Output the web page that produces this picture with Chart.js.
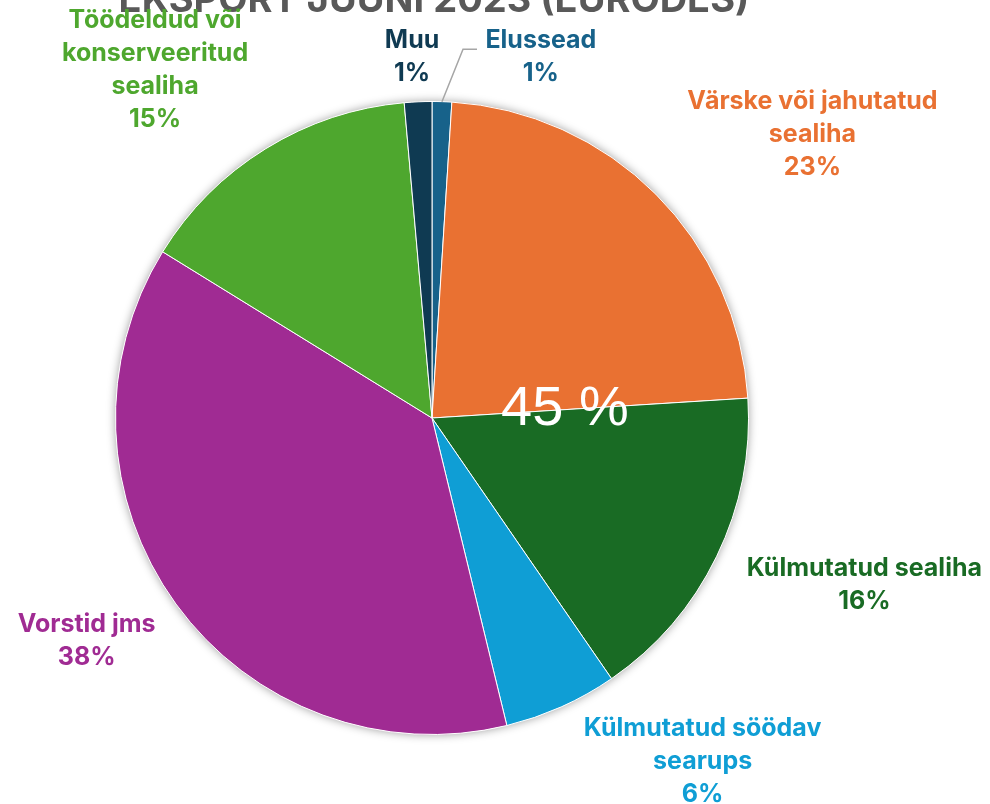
<!DOCTYPE html>
<html>
<head>
<meta charset="utf-8">
<script src="https://cdn.jsdelivr.net/npm/chart.js@4.4.0/dist/chart.umd.min.js"></script>
<style>
  html, body { margin: 0; padding: 0; background: #fff; }
  #wrap { width: 990px; height: 804px; }
</style>
</head>
<body>
<div id="wrap"><canvas id="pie"></canvas></div>
<script>
// andmed (osakaal %, loetud pildilt)
const kategooriad = [
  ["Elussead"],
  ["Värske või jahutatud", "sealiha"],
  ["Külmutatud sealiha"],
  ["Külmutatud söödav", "searups"],
  ["Vorstid jms"],
  ["Töödeldud või", "konserveeritud", "sealiha"],
  ["Muu"]
];
const vaartused = [1.0, 23.0, 16.4, 5.8, 37.6, 14.8, 1.4];
const varvid = ["#17628a", "#e97132", "#196b24", "#0f9ed5", "#a02b93", "#4ea72e", "#0f3a52"];
const pealkiri = "EKSPORT JUUNI 2023 (EURODES)";
const keskTekst = "45 %";

// sildi keskpunkt raadiuse kordajana pirukast (x, y)
const sildiKoht = [
  [0.344, -1.142],
  [1.202, -0.896],
  [1.366, 0.527],
  [0.855, 1.085],
  [-1.091, 0.703],
  [-0.875, -1.099],
  [-0.063, -1.142]
];

const font = "Inter, 'DejaVu Sans', sans-serif";

const varjuPlugin = {
  id: "vari",
  beforeDatasetsDraw(chart) {
    const arc = chart.getDatasetMeta(0).data[0];
    if (!arc) return;
    const ctx = chart.ctx;
    ctx.save();
    ctx.shadowColor = "rgba(0,0,0,0.4)";
    ctx.shadowBlur = 10;
    ctx.fillStyle = "#ffffff";
    ctx.beginPath();
    ctx.arc(arc.x, arc.y, arc.outerRadius, 0, Math.PI * 2);
    ctx.fill();
    ctx.restore();
  }
};

const siltidePlugin = {
  id: "sildid",
  afterDatasetsDraw(chart) {
    const ctx = chart.ctx;
    const meta = chart.getDatasetMeta(0);
    const kokku = vaartused.reduce((a, b) => a + b, 0);
    const cx = meta.data[0].x, cy = meta.data[0].y, r = meta.data[0].outerRadius;

    ctx.save();
    // pealkiri (ülevalt ära lõigatud)
    ctx.fillStyle = "#595959";
    ctx.font = "bold 38px " + font;
    ctx.textAlign = "center";
    ctx.textBaseline = "alphabetic";
    ctx.fillText(pealkiri, cx + 2, 12);

    // suur valge tekst
    ctx.fillStyle = "#ffffff";
    ctx.font = "56px 'Liberation Sans', Arial, sans-serif";
    ctx.fillText(keskTekst, cx + 0.42 * r, cy + 0.022 * r);

    // andmesildid
    ctx.font = "bold 25px " + font;
    ctx.textBaseline = "middle";
    const reaKorgus = 33;
    kategooriad.forEach(function (read, i) {
      const protsent = Math.round(vaartused[i] / kokku * 100) + "%";
      const ridu = read.concat([protsent]);
      const lx = cx + sildiKoht[i][0] * r;
      const ly = cy + sildiKoht[i][1] * r;
      const algus = ly - (ridu.length - 1) * reaKorgus / 2;
      ctx.fillStyle = varvid[i];
      ridu.forEach(function (t, j) {
        ctx.fillText(t, lx, algus + j * reaKorgus);
      });
    });

    // juhtjoon Elusseadele
    const e = meta.data[0];
    const keskNurk = (e.startAngle + e.endAngle) / 2;
    const px = cx + Math.cos(keskNurk) * r;
    const py = cy + Math.sin(keskNurk) * r;
    const kx = cx + 0.098 * r, ky = cy - 1.165 * r;
    ctx.strokeStyle = "#a6a6a6";
    ctx.lineWidth = 1.5;
    ctx.beginPath();
    ctx.moveTo(px, py);
    ctx.lineTo(kx, ky);
    ctx.lineTo(kx + 14, ky);
    ctx.stroke();
    ctx.restore();
  }
};

new Chart(document.getElementById("pie"), {
  type: "pie",
  data: {
    labels: kategooriad.map(k => k.join(" ")),
    datasets: [{
      data: vaartused,
      backgroundColor: varvid,
      borderColor: "#ffffff",
      borderWidth: 1
    }]
  },
  options: {
    responsive: true,
    maintainAspectRatio: false,
    animation: false,
    layout: { padding: { left: 115, right: 241, top: 101, bottom: 69 } },
    plugins: {
      legend: { display: false },
      tooltip: { enabled: false },
      title: { display: false }
    }
  },
  plugins: [varjuPlugin, siltidePlugin]
});
</script>
</body>
</html>
